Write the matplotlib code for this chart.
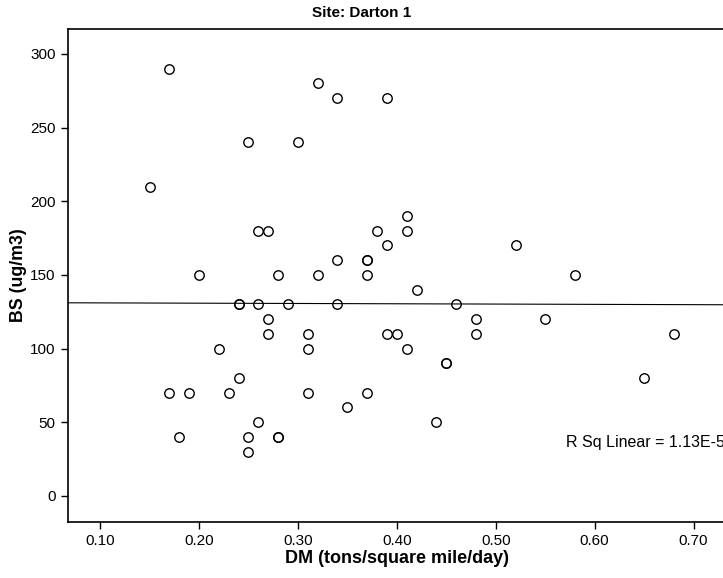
import numpy as np
import matplotlib
matplotlib.use("Agg")
import matplotlib.pyplot as plt

plt.rcParams['font.family'] = ['Liberation Sans', 'DejaVu Sans']

# DM (tons/square mile/day) vs BS (ug/m3)
dm = [0.17, 0.32, 0.34, 0.39, 0.25, 0.30, 0.15, 0.41, 0.26, 0.27,
      0.38, 0.41, 0.39, 0.52, 0.34, 0.37, 0.37, 0.20, 0.28, 0.32,
      0.37, 0.58, 0.42, 0.24, 0.24, 0.26, 0.29, 0.34, 0.46, 0.27,
      0.48, 0.55, 0.27, 0.31, 0.39, 0.40, 0.48, 0.68, 0.22, 0.31,
      0.41, 0.45, 0.45, 0.24, 0.65, 0.17, 0.19, 0.23, 0.31, 0.37,
      0.35, 0.26, 0.44, 0.18, 0.25, 0.28, 0.28, 0.25]
bs = [290, 280, 270, 270, 240, 240, 210, 190, 180, 180,
      180, 180, 170, 170, 160, 160, 160, 150, 150, 150,
      150, 150, 140, 130, 130, 130, 130, 130, 130, 120,
      120, 120, 110, 110, 110, 110, 110, 110, 100, 100,
      100, 90, 90, 80, 80, 70, 70, 70, 70, 70,
      60, 50, 50, 40, 40, 40, 40, 30]

# linear fit line as drawn (nearly flat)
fit_intercept = 131.2
fit_slope = -2.0
r2_text = "R Sq Linear = 1.13E-5"

xticks = [0.10, 0.20, 0.30, 0.40, 0.50, 0.60, 0.70]
yticks = [0, 50, 100, 150, 200, 250, 300]

fig = plt.figure(figsize=(7.23, 5.78), dpi=100)
ax = fig.add_axes([0.094, 0.097, 0.91, 0.853])

ax.plot(dm, bs, 'o', mfc='none', mec='black', ms=6.8, mew=1.0, clip_on=False)

xlim = (0.0675, 0.7327)
xs = np.array(xlim)
ax.plot(xs, fit_intercept + fit_slope * xs, color='black', lw=0.8)

ax.set_xlim(xlim)
ax.set_ylim(-17.7, 317)
ax.set_xticks(xticks)
ax.set_xticklabels(['%.2f' % t for t in xticks])
ax.set_yticks(yticks)
ax.tick_params(direction='out', length=5, width=1, labelsize=11, colors='black', pad=4)

for s in ['left', 'bottom', 'top']:
    ax.spines[s].set_linewidth(1.2)
ax.spines['right'].set_visible(False)

ax.set_xlabel('DM (tons/square mile/day)', fontsize=13, fontweight='bold', labelpad=1)
ax.set_ylabel('BS (ug/m3)', fontsize=12.8, fontweight='bold', labelpad=2)
fig.text(0.5, 0.978, 'Site: Darton 1', ha='center', va='center', fontsize=11, fontweight='bold')

ax.text(0.571, 36, r2_text, fontsize=11.5, va='center', ha='left')

fig.savefig('out.png', dpi=100)
